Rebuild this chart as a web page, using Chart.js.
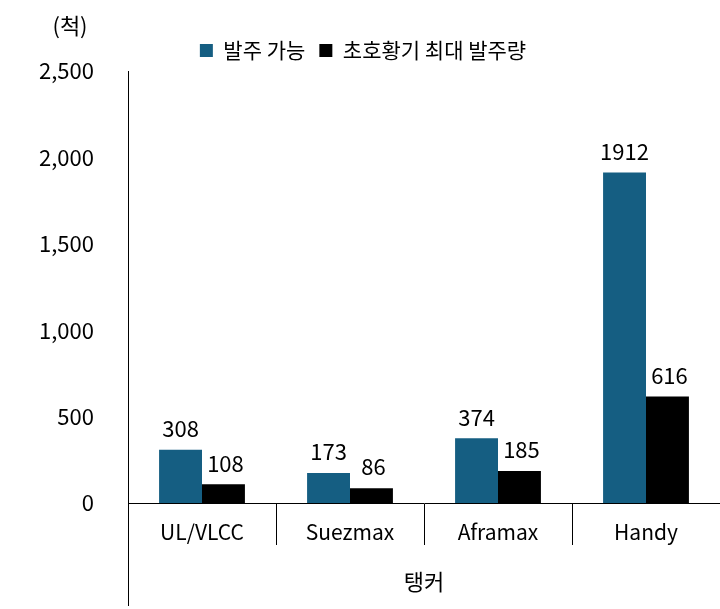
<!DOCTYPE html>
<html>
<head>
<meta charset="utf-8">
<script src="https://cdn.jsdelivr.net/npm/chart.js@4"></script>
<style>
  body { margin: 0; background: #fff; }
  #wrap { width: 720px; height: 609px; }
</style>
</head>
<body>
<div id="wrap"><canvas id="c"></canvas></div>
<script>
const categories = ["UL/VLCC", "Suezmax", "Aframax", "Handy"];
const orderable = [308, 173, 374, 1912];
const peakOrders = [108, 86, 185, 616];
const yTicks = [0, 500, 1000, 1500, 2000, 2500];
const FONT = "'Noto Sans CJK KR', 'Noto Sans', sans-serif";

// value labels above bars, unit text, and the group label below the axis
const extras = {
  id: "extras",
  afterDatasetsDraw(chart) {
    const ctx = chart.ctx;
    ctx.save();
    ctx.fillStyle = "#000";
    ctx.font = "22px " + FONT;
    ctx.textAlign = "center";
    ctx.textBaseline = "bottom";
    chart.data.datasets.forEach((ds, i) => {
      chart.getDatasetMeta(i).data.forEach((bar, j) => {
        const dx = i === 1 ? 2 : 0;
        ctx.fillText(ds.data[j], bar.x + dx, bar.y - 10);
      });
    });
    const x = chart.scales.x;
    ctx.textBaseline = "middle";
    ctx.fillText("(척)", 70, 26);
    ctx.fillText("탱커", (x.left + x.right) / 2, 582);
    ctx.strokeStyle = "#000";
    ctx.lineWidth = 1;
    ctx.beginPath();
    ctx.moveTo(x.left + 0.5, x.top);
    ctx.lineTo(x.left + 0.5, 606);
    ctx.stroke();
    ctx.restore();
  }
};

new Chart(document.getElementById("c"), {
  type: "bar",
  data: {
    labels: categories,
    datasets: [
      { label: "발주 가능", data: orderable, backgroundColor: "#155e82",
        barPercentage: 1, categoryPercentage: 0.58 },
      { label: "초호황기 최대 발주량", data: peakOrders, backgroundColor: "#000000",
        barPercentage: 1, categoryPercentage: 0.58 }
    ]
  },
  plugins: [extras],
  options: {
    responsive: true,
    maintainAspectRatio: false,
    animation: false,
    layout: { padding: { top: 26, right: -6, left: 0, bottom: 0 } },
    plugins: {
      tooltip: { enabled: false },
      legend: {
        position: "top",
        align: "center",
        labels: {
          font: { size: 21, family: FONT },
          color: "#000",
          boxWidth: 13,
          boxHeight: 13,
          padding: 14
        }
      }
    },
    scales: {
      x: {
        offset: true,
        grid: { display: true, drawOnChartArea: false, color: "#000", tickLength: 42, offset: true },
        border: { color: "#000" },
        ticks: { font: { size: 21, family: FONT }, color: "#000", padding: -26 },
        afterFit(s) { s.height = 106; }
      },
      y: {
        min: 0,
        max: 2500,
        afterBuildTicks(s) { s.ticks = yTicks.map(v => ({ value: v })); },
        grid: { display: false },
        border: { color: "#000" },
        ticks: { font: { size: 22, family: FONT }, color: "#000", padding: 26,
          callback: v => v.toLocaleString("en-US") },
        afterFit(s) { s.width = 128; }
      }
    }
  }
});
</script>
</body>
</html>
